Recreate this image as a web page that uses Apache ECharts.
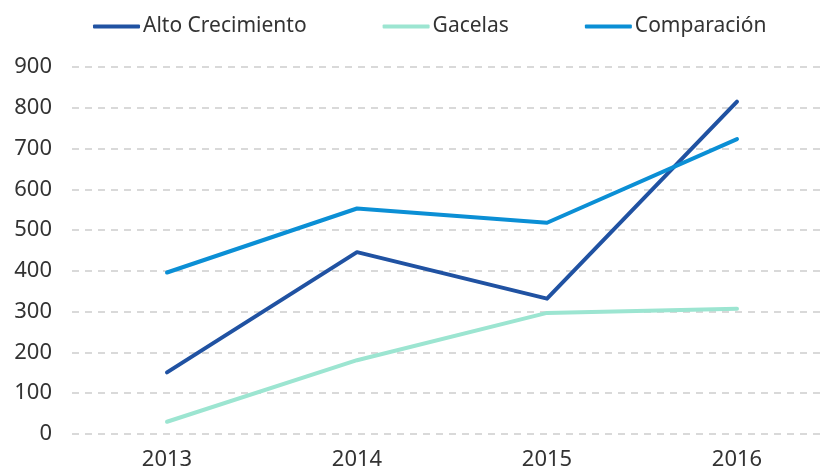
<!DOCTYPE html>
<html>
<head>
<meta charset="utf-8">
<script src="https://cdn.jsdelivr.net/npm/echarts@6/dist/echarts.min.js"></script>
<style>
  html, body { margin: 0; padding: 0; background: #fff; }
  #chart { width: 821px; height: 472px; }
</style>
</head>
<body>
<div id="chart"></div>
<script>
const years = ['2013', '2014', '2015', '2016'];
const altoCrecimiento = [151, 446, 332, 815];
const gacelas = [30, 181, 297, 307];
const comparacion = [396, 553, 518, 723];

const FONT = '"Noto Sans", sans-serif';

const chart = echarts.init(document.getElementById('chart'));

function lineSeries(name, data, color) {
    return {
        name: name,
        type: 'line',
        data: data,
        symbol: 'none',
        lineStyle: { color: color, width: 4, cap: 'round', join: 'round' },
        itemStyle: { color: color },
        animation: false,
    };
}

const option = {
    backgroundColor: '#fff',
    grid: { left: 72, right: -11, top: 67, bottom: 38, outerBoundsMode: 'none' },
    legend: {
        left: 88,
        top: 11,
        itemWidth: 47,
        itemHeight: 4,
        itemGap: 76,
        icon: 'roundRect',
        textStyle: { fontFamily: FONT, fontSize: 21, color: '#333', padding: [0, 0, 0, -2] },
    },
    xAxis: {
        type: 'category',
        data: years,
        boundaryGap: true,
        axisLine: { show: false },
        axisTick: { show: false },
        axisLabel: { fontFamily: FONT, fontSize: 22, color: '#333', margin: 15 },
    },
    yAxis: {
        type: 'value',
        min: 0,
        max: 900,
        interval: 100,
        axisLine: { show: false },
        axisTick: { show: false },
        axisLabel: { fontFamily: FONT, fontSize: 22, color: '#333', margin: 20 },
        splitLine: { lineStyle: { color: '#d9d9d9', width: 2, type: [7, 6] } },
    },
    series: [
        lineSeries('Alto Crecimiento', altoCrecimiento, '#2052a2'),
        lineSeries('Gacelas', gacelas, '#9ce5d1'),
        lineSeries('Comparación', comparacion, '#0b8fd5'),
    ],
};

chart.setOption(option);
</script>
</body>
</html>
